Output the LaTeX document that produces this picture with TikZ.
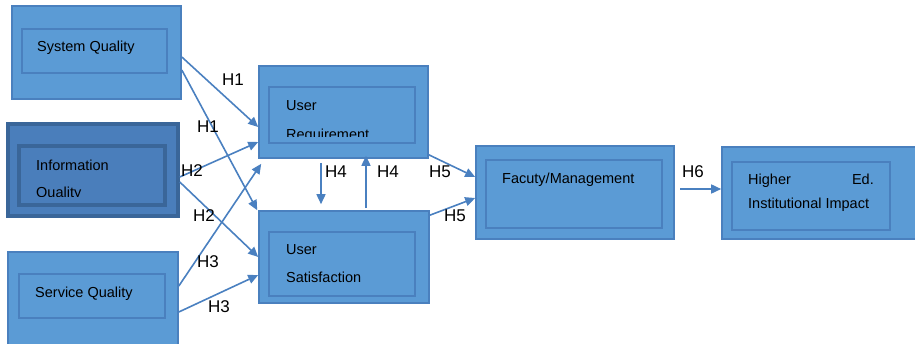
\documentclass[tikz,border=0pt]{standalone}
\usepackage{fontspec}
\setmainfont{Liberation Sans}
\usetikzlibrary{arrows.meta,calc}
\definecolor{boxfill}{HTML}{5B9BD5}
\definecolor{boxline}{HTML}{4A80BE}
\definecolor{darkfill}{HTML}{4A7EBB}
\definecolor{darkline}{HTML}{3A6699}
\definecolor{arrowc}{HTML}{4A80C0}
\begin{document}
\begin{tikzpicture}[x=1pt,y=-1pt,
  outerbox/.style={draw=boxline,fill=boxfill,line width=1.6pt,minimum width=#1,inner sep=0pt},
  innerbox/.style={draw=boxline,line width=1.4pt,inner sep=0pt},
  darkouter/.style={draw=darkline,fill=darkfill,line width=3.5pt,inner sep=0pt},
  darkinner/.style={draw=darkline,line width=3.5pt,inner sep=0pt},
  txt/.style={font=\fontsize{14.5}{17}\selectfont,anchor=base west,inner sep=0pt},
  lab/.style={font=\fontsize{17}{20}\selectfont,inner sep=0pt},
  arr/.style={draw=arrowc,line width=1.6pt,-{Triangle[length=10pt,width=9pt]}}]
\useasboundingbox (0,0) rectangle (915,343);
\begin{scope}
\clip (0,0) rectangle (915,343);
% outer boxes
\node[outerbox=169pt,minimum height=93pt] (sq) at (96.5,52.5) {};
\node[darkouter,minimum width=170pt,minimum height=92pt] (iq) at (93,170) {};
\node[outerbox=170pt,minimum height=94pt] (svq) at (93,299) {};
\node[outerbox=169pt,minimum height=92pt] (ur) at (343.5,112) {};
\node[outerbox=170pt,minimum height=92pt] (us) at (344,257) {};
\node[outerbox=198pt,minimum height=93pt] (fac) at (575,192.5) {};
\node[outerbox=198pt,minimum height=92pt] (he) at (821,193) {};
% inner boxes
\node[innerbox,minimum width=145pt,minimum height=44pt] (sqi) at (94.5,51) {};
\node[darkinner,minimum width=146pt,minimum height=59pt] (iqi) at (92,175.5) {};
\node[innerbox,minimum width=146pt,minimum height=44pt] (svqi) at (92,296) {};
\node[innerbox,minimum width=146pt,minimum height=56pt] (uri) at (342,115) {};
\node[innerbox,minimum width=146pt,minimum height=64pt] (usi) at (342,264) {};
\node[innerbox,minimum width=176pt,minimum height=68pt] (faci) at (574,194) {};
\node[innerbox,minimum width=158pt,minimum height=68pt] (hei) at (811,196) {};
\end{scope}
% texts
\node[txt] (t1) at (37,51) {System Quality};
\node[txt] (t2) at (36,170.5) {Information};
\begin{scope}
\clip (20,150) rectangle (160,196.5);
\node[txt] (t3) at (36,197.5) {Quality};
\end{scope}
\node[txt] (t4) at (35,297) {Service Quality};
\node[txt] (t5) at (286,110) {User};
\begin{scope}
\clip (270,90) rectangle (414,136);
\node[txt] (t6) at (286,139.5) {Requirement};
\end{scope}
\node[txt] (t7) at (286,254) {User};
\node[txt] (t8) at (286,282) {Satisfaction};
\node[txt] (t9) at (502,183) {Facuty/Management};
\node[txt] (t10) at (748,184) {Higher};
\node[txt,anchor=base east] (t11) at (874,184) {Ed.};
\node[txt] (t12) at (748,208) {Institutional Impact};
% connectors
\draw[arr] ([yshift=-4.5pt]sq.east) -- ([yshift=-15pt]ur.west);
\draw[arr] ([yshift=-17.5pt]sq.east) -- ([xshift=-1pt]us.north west);
\draw[arr] ([yshift=-7pt]iq.east) -- ([yshift=-30pt]ur.west);
\draw[arr] ([yshift=-12pt]iq.east) -- ([yshift=0pt]us.west);
\draw[arr] ([yshift=13pt]svq.east) -- ([xshift=3pt,yshift=-5pt]ur.south west);
\draw[arr] ([yshift=-13pt]svq.east) -- ([yshift=-18pt]us.west);
\draw[arr] ($(ur.south)+(-22.5,4)$) -- ($(us.north)+(-23,-6)$);
\draw[arr] ($(us.north)+(22,-2)$) -- ($(ur.south)+(22.5,-3)$);
\draw[arr] ([yshift=4pt]ur.south east) -- ([yshift=15.5pt]fac.west);
\draw[arr] ([yshift=-5pt]us.north east) -- ([yshift=-5.5pt]fac.west);
\coordinate (h6s) at (680,189);
\draw[arr] (h6s) -- (he.west |- h6s);
% labels
\node[lab] (l1) at (233,80) {H1};
\node[lab] (l2) at (208,127) {H1};
\node[lab] (l3) at (192,171) {H2};
\node[lab] (l4) at (204,216) {H2};
\node[lab] (l5) at (208,262) {H3};
\node[lab] (l6) at (219,307) {H3};
\node[lab] (l7) at (336,172) {H4};
\node[lab] (l8) at (388,172) {H4};
\node[lab] (l9) at (440,172) {H5};
\node[lab] (l10) at (455,216) {H5};
\node[lab] (l11) at (693,172) {H6};
\end{tikzpicture}
\end{document}
